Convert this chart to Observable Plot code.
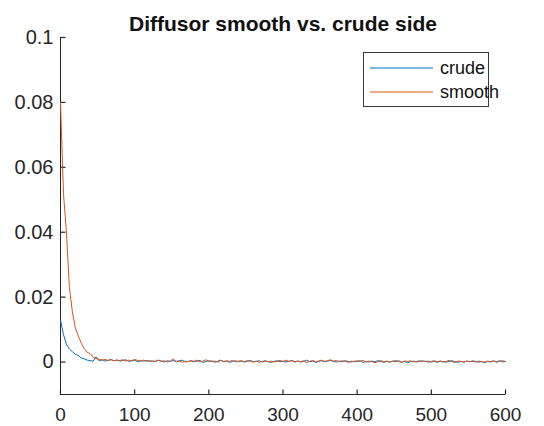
<!DOCTYPE html>
<html>
<head>
<meta charset="utf-8">
<script src="https://cdn.jsdelivr.net/npm/d3@7"></script>
<script src="https://cdn.jsdelivr.net/npm/@observablehq/plot@0.6"></script>
<style>
  html, body { margin: 0; padding: 0; background: #fff; }
  #wrap { position: relative; width: 544px; height: 426px; font-family: "Liberation Sans", Arial, sans-serif; }
  #legend { position: absolute; left: 363px; top: 52px; width: 126px; height: 55px; border: 1px solid #3a3a3a; background: #fff; box-sizing: border-box; }
  .item { position: absolute; left: 6px; height: 20px; display: flex; align-items: center; font-size: 18px; color: #111; }
  .item svg { margin-right: 7px; }
</style>
</head>
<body>
<div id="wrap"></div>
<script>
const titleText = "Diffusor smooth vs. crude side";
const seriesNames = ["crude", "smooth"];
const seriesColors = ["#0072BD", "#D95319"];
const step = 4; // sample spacing along x
const xTicks = [0, 100, 200, 300, 400, 500, 600];
const yTicks = [0, 0.02, 0.04, 0.06, 0.08, 0.1];
const yTickLabels = ["0", "0.02", "0.04", "0.06", "0.08", "0.1"];

const crude = [
0.0130,0.0085,0.0055,0.0040,0.0032,0.0024,0.0020,0.0013,0.0010,0.0006,
0.0004,0.0003,0.0016,0.0004,0.0007,0.0003,0.0005,0.0008,0.0004,0.0006,
0.0003,0.0005,0.0007,0.0002,0.0004,0.0006,0.0001,0.0004,0.0003,0.0005,
0.0002,0.0004,0.0001,0.0006,0.0003,0.0000,0.0004,0.0002,0.0005,0.0001,
0.0003,0.0006,0.0000,0.0002,0.0004,0.0001,0.0003,0.0005,-0.0001,0.0002,
0.0004,0.0001,0.0003,0.0000,0.0005,0.0002,0.0003,-0.0001,0.0002,0.0004,
0.0001,0.0003,0.0000,0.0002,0.0005,0.0001,0.0002,0.0004,0.0000,0.0003,
0.0001,-0.0001,0.0002,0.0004,0.0001,0.0003,0.0000,0.0002,0.0005,0.0001,
0.0003,0.0000,0.0002,0.0006,0.0001,0.0003,-0.0001,0.0002,0.0004,0.0001,
0.0003,0.0005,0.0002,0.0000,0.0003,0.0001,0.0004,0.0002,0.0000,0.0003,
0.0001,0.0004,-0.0001,0.0002,0.0000,0.0003,0.0001,0.0004,0.0002,-0.0001,
0.0002,0.0000,0.0003,0.0001,0.0004,0.0000,0.0002,-0.0002,0.0001,0.0003,
0.0000,0.0002,0.0004,0.0001,0.0003,0.0000,0.0002,-0.0001,0.0003,0.0001,
0.0000,0.0002,0.0004,0.0001,-0.0001,0.0002,0.0000,0.0003,0.0001,0.0002,
0.0000,0.0003,0.0001,-0.0002,0.0002,0.0000,0.0003,0.0001,0.0004,0.0000,
0.0002
];

const smooth = [
0.0800,0.0520,0.0400,0.0230,0.0155,0.0105,0.0080,0.0058,0.0042,0.0030,
0.0026,0.0015,0.0010,0.0009,0.0006,0.0008,0.0005,0.0007,0.0004,0.0006,
0.0005,0.0007,0.0003,0.0006,0.0004,0.0008,0.0005,0.0003,0.0006,0.0002,
0.0004,0.0001,0.0003,0.0005,0.0002,0.0004,0.0000,0.0003,0.0009,0.0002,
0.0004,-0.0001,0.0003,0.0001,0.0004,0.0002,0.0006,0.0000,0.0003,0.0007,
0.0002,0.0004,-0.0001,0.0003,0.0006,0.0001,0.0004,0.0002,0.0005,0.0000,
0.0003,0.0004,0.0001,0.0005,0.0002,0.0000,0.0003,-0.0001,0.0002,0.0004,
0.0001,0.0003,0.0000,0.0002,0.0005,0.0001,0.0006,0.0002,0.0004,0.0000,
0.0003,0.0001,0.0004,-0.0001,0.0002,0.0005,0.0001,0.0003,0.0006,0.0002,
0.0004,0.0007,0.0003,0.0005,0.0001,0.0004,0.0002,-0.0001,0.0003,0.0001,
0.0004,0.0002,0.0005,0.0000,0.0003,0.0001,-0.0002,0.0002,0.0004,0.0001,
0.0003,0.0000,0.0002,0.0005,0.0001,-0.0001,0.0003,0.0002,0.0004,0.0000,
0.0002,0.0004,0.0001,0.0003,-0.0001,0.0002,0.0004,0.0001,0.0003,0.0000,
0.0002,0.0005,0.0001,-0.0001,0.0003,0.0002,0.0000,0.0003,0.0001,0.0004,
0.0002,-0.0001,0.0002,0.0000,0.0003,0.0001,0.0004,-0.0001,0.0002,0.0005,
0.0001
];

const crudeData = crude.map((v, i) => ({x: i * step, y: v}));
const smoothData = smooth.map((v, i) => ({x: i * step, y: v}));
const axisColor = "#262626";

const W = 544, H = 426, mL = 60, mR = 39, mT = 37, mB = 32;
const xDomain = [0, 600], yDomain = [-0.01, 0.1];
const tickLen = 5;
const frameW = W - mL - mR, frameH = H - mT - mB;
// tick stub length expressed in data units of each scale
const xTickSpan = (xDomain[1] - xDomain[0]) * tickLen / frameW;
const yTickSpan = (yDomain[1] - yDomain[0]) * tickLen / frameH;

const chart = Plot.plot({
  width: W,
  height: H,
  marginLeft: mL,
  marginRight: mR,
  marginTop: mT,
  marginBottom: mB,
  style: {fontFamily: "'Liberation Sans', Arial, sans-serif", fontSize: "20px", color: axisColor, background: "#fff"},
  x: {domain: xDomain},
  y: {domain: yDomain},
  marks: [
    Plot.ruleX([xDomain[0]], {stroke: axisColor, strokeWidth: 1}),
    Plot.ruleY([yDomain[0]], {stroke: axisColor, strokeWidth: 1}),
    // inward tick marks
    Plot.link(xTicks, {x1: d => d, x2: d => d, y1: yDomain[0], y2: yDomain[0] + yTickSpan, stroke: axisColor, strokeWidth: 1.2}),
    Plot.link(yTicks, {x1: xDomain[0], x2: xDomain[0] + xTickSpan, y1: d => d, y2: d => d, stroke: axisColor, strokeWidth: 1.2}),
    // tick labels
    Plot.axisX({ticks: xTicks, tickSize: 0, tickPadding: 13, fontSize: 19, label: null, fill: axisColor}),
    Plot.axisY({ticks: yTicks, tickFormat: (d, i) => yTickLabels[i], tickSize: 0, tickPadding: 7, label: null, fill: axisColor}),
    Plot.line(crudeData, {x: "x", y: "y", stroke: seriesColors[0], strokeWidth: 1}),
    Plot.line(smoothData, {x: "x", y: "y", stroke: seriesColors[1], strokeWidth: 1}),
    Plot.text([titleText], {frameAnchor: "top", text: d => d, dy: -21, lineAnchor: "top", fontWeight: "bold", fontSize: 21, fill: "#111"})
  ]
});

const wrap = document.getElementById("wrap");
wrap.appendChild(chart);
const legend = document.createElement("div");
legend.id = "legend";
seriesNames.forEach((name, i) => {
  const item = document.createElement("div");
  item.className = "item";
  item.style.top = (i === 0 ? 5 : 29) + "px";
  item.innerHTML = `<svg width="63" height="4"><line x1="0" x2="63" y1="2" y2="2" stroke="${seriesColors[i]}" stroke-width="1.2"/></svg>${name}`;
  legend.appendChild(item);
});
wrap.appendChild(legend);
</script>
</body>
</html>
